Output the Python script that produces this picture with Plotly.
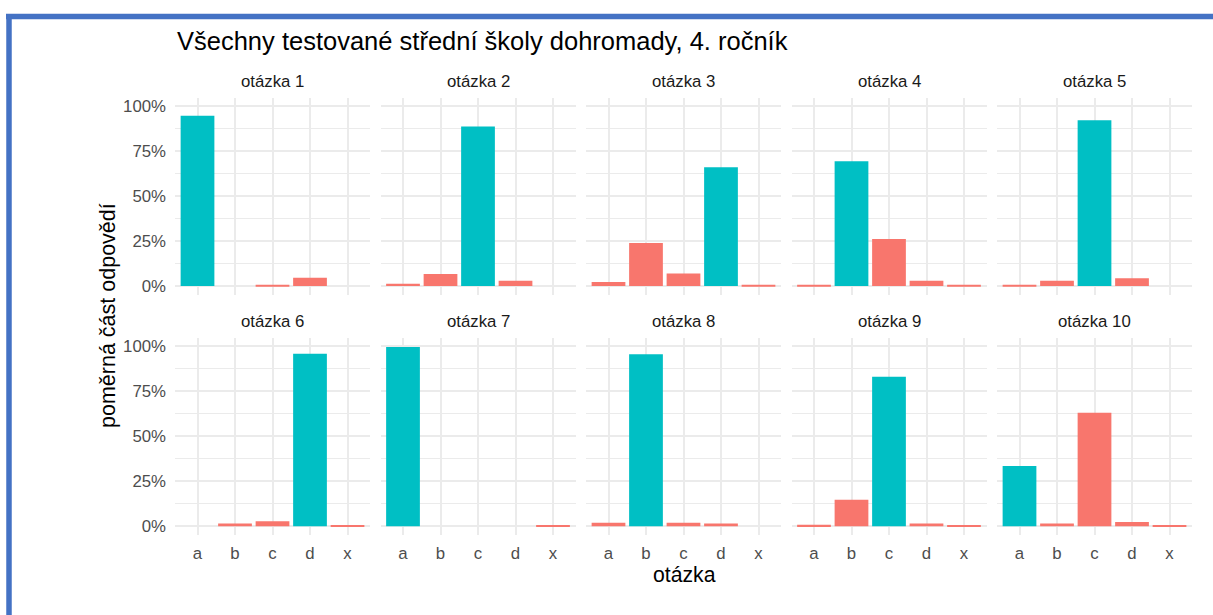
import plotly.graph_objects as go

# answer options and per-question share of answers
options = ["a", "b", "c", "d", "x"]
questions = ["otázka %d" % i for i in range(1, 11)]
correct = ["a", "c", "d", "b", "c", "d", "a", "b", "c", "a"]

shares = [
    [0.946, 0.0, 0.003, 0.046, 0.0],
    [0.013, 0.067, 0.887, 0.029, 0.0],
    [0.022, 0.239, 0.070, 0.661, 0.003],
    [0.003, 0.693, 0.261, 0.029, 0.007],
    [0.003, 0.029, 0.922, 0.043, 0.0],
    [0.0, 0.015, 0.028, 0.959, 0.005],
    [0.997, 0.0, 0.0, 0.0, 0.004],
    [0.019, 0.956, 0.019, 0.015, 0.0],
    [0.009, 0.148, 0.831, 0.015, 0.005],
    [0.335, 0.015, 0.631, 0.024, 0.005],
]

y_ticks = [0, 0.25, 0.5, 0.75, 1.0]
y_tick_text = ["0%", "25%", "50%", "75%", "100%"]
y_minor = [0.125, 0.375, 0.625, 0.875]

W, H = 1213, 615
TEAL = "#00BFC4"
SALMON = "#F8766D"
GRID = "#EBEBEB"
FONT = "Liberation Sans"

# panel geometry in pixels
col_left = [175, 380.5, 586, 791.5, 997]
panel_w = 195
row_top = [97, 338]
panel_h = 198


def px_x(v):
    return v / W


def px_y(v):
    return 1 - v / H


fig = go.Figure()
annotations = []

for i, q in enumerate(questions):
    r, c = divmod(i, 5)
    n = i + 1
    xa = "x" if n == 1 else "x%d" % n
    ya = "y" if n == 1 else "y%d" % n
    colors = [TEAL if o == correct[i] else SALMON for o in options]
    fig.add_trace(go.Bar(x=options, y=shares[i], xaxis=xa, yaxis=ya,
                         width=0.9, marker=dict(color=colors, line_width=0),
                         showlegend=False, hoverinfo="x+y"))

    xkey = "xaxis" if n == 1 else "xaxis%d" % n
    ykey = "yaxis" if n == 1 else "yaxis%d" % n
    x0 = col_left[c]
    y0 = row_top[r]
    fig.layout[xkey] = dict(
        domain=[px_x(x0), px_x(x0 + panel_w)], anchor=ya,
        type="category", categoryorder="array", categoryarray=options,
        range=[-0.6, 4.6], showgrid=True, gridcolor=GRID, gridwidth=1.5,
        zeroline=False, showline=False, ticks="",
        showticklabels=(r == 1),
        tickfont=dict(family=FONT, size=16.8, color="#4D4D4D"),
        ticklabelstandoff=6, fixedrange=True,
    )
    fig.layout[ykey] = dict(
        domain=[px_y(y0 + panel_h), px_y(y0)], anchor=xa,
        range=[-0.0499, 1.047], tickvals=y_ticks, ticktext=y_tick_text,
        showgrid=True, gridcolor=GRID, gridwidth=1.5,
        minor=dict(tickvals=y_minor, showgrid=True, gridcolor=GRID,
                   gridwidth=0.8),
        zeroline=False, showline=False, ticks="",
        showticklabels=(c == 0),
        tickfont=dict(family=FONT, size=16.8, color="#4D4D4D"),
        ticklabelstandoff=8, fixedrange=True,
    )

    annotations.append(dict(
        text=q, xref="paper", yref="paper", x=px_x(x0 + panel_w / 2),
        y=px_y(81 if r == 0 else 322), xanchor="center", yanchor="middle",
        showarrow=False, font=dict(family=FONT, size=16.8, color="#1A1A1A"),
    ))

annotations.append(dict(
    text="Všechny testované střední školy dohromady, 4. ročník",
    xref="paper", yref="paper", x=px_x(175), y=px_y(40),
    xanchor="left", yanchor="middle", showarrow=False,
    font=dict(family=FONT, size=25.5, color="#000000"),
))
annotations.append(dict(
    text="poměrná část odpovědí", xref="paper", yref="paper",
    x=px_x(108), y=px_y(316), xanchor="center", yanchor="middle",
    textangle=-90, showarrow=False,
    font=dict(family=FONT, size=21.5, color="#000000"),
))
annotations.append(dict(
    text="otázka", xref="paper", yref="paper",
    x=px_x(684), y=px_y(575), xanchor="center", yanchor="middle",
    showarrow=False, font=dict(family=FONT, size=21.2, color="#000000"),
))

# blue frame round the chart (top and left edges visible)
frame = dict(type="line", xref="paper", yref="paper",
             line=dict(color="#4472C4", width=5.5), layer="above")
shapes = [
    dict(frame, x0=px_x(6), x1=px_x(W + 20), y0=px_y(15.5), y1=px_y(15.5)),
    dict(frame, x0=px_x(9), x1=px_x(9), y0=px_y(13), y1=px_y(H + 20)),
]

fig.update_layout(
    width=W, height=H,
    margin=dict(l=0, r=0, t=0, b=0),
    paper_bgcolor="white", plot_bgcolor="white",
    annotations=annotations, shapes=shapes,
    font=dict(family=FONT),
)

fig.write_html("out.html", config=dict(displayModeBar=False),
               post_script="document.body.style.margin='0';")
